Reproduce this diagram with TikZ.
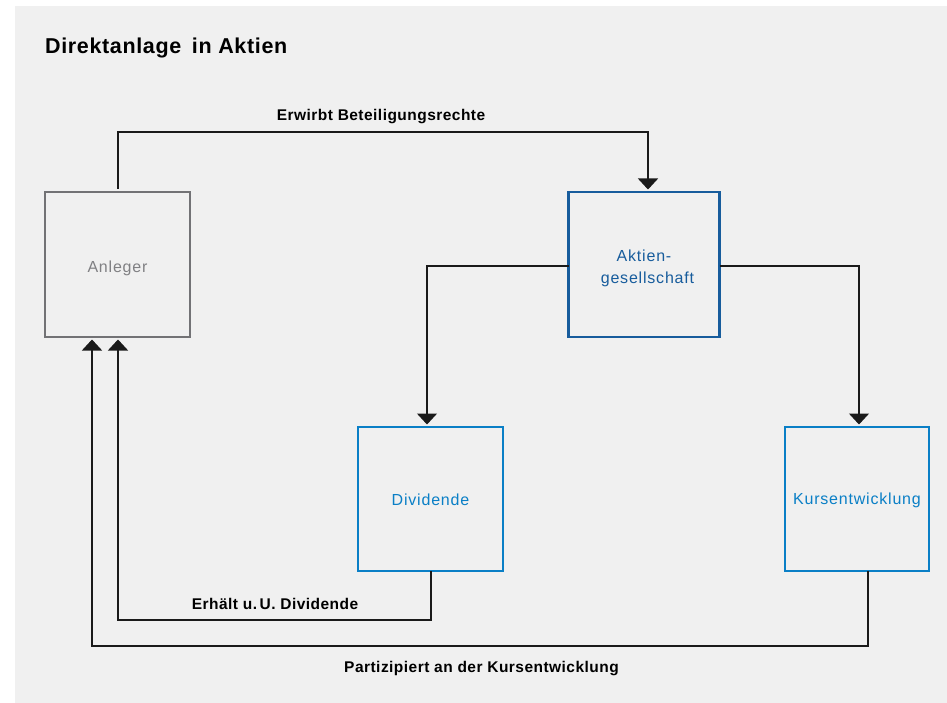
\documentclass[tikz,border=0pt]{standalone}
\usepackage{fontspec}
\setmainfont{Liberation Sans}
\newfontfamily\lblfont[LetterSpace=3]{Liberation Sans}
\newfontfamily\boxfont[LetterSpace=5]{Liberation Sans}
\usetikzlibrary{arrows.meta}
\definecolor{bggray}{HTML}{F0F0F0}
\definecolor{anlgray}{HTML}{727275}
\definecolor{darkblue}{HTML}{175C9C}
\definecolor{lightblue}{HTML}{0A7FC6}
\definecolor{linecol}{HTML}{1A1A1A}
\newcommand{\lowertext}[2]{\raisebox{-#1}[\height][\depth]{#2}}
\begin{document}
\begin{tikzpicture}[x=1pt,y=-1pt,
  boxnode/.style={draw, line width=2.8pt, inner sep=0pt, outer sep=0pt,
    font=\boxfont\fontsize{16}{21.7}\selectfont, align=center},
  conn/.style={draw=linecol, line width=1.4pt},
  arr/.style={conn, -{Triangle[width=20pt,length=11pt]}, shorten >=2.5pt},
  lbl/.style={anchor=base, inner sep=0pt, font=\lblfont\bfseries\fontsize{15.5}{18}\selectfont, text=black}
]
\useasboundingbox (0,0) rectangle (947,703);
\fill[white] (0,0) rectangle (947,703);
\fill[bggray] (15,6) rectangle (947,703);

\node[anchor=base west, inner sep=0pt, font=\lblfont\bfseries\fontsize{21.5}{24}\selectfont] (title) at (45,53.3) {Direktanlage\hspace{4pt} in Aktien};

\node[boxnode, draw=anlgray, text=anlgray!90, minimum width=145pt, minimum height=145pt] (anl) at (117.5,264.5) {\lowertext{4pt}{Anleger}};
\node[boxnode, draw=darkblue, text=darkblue, minimum width=151pt, minimum height=145pt] (ag) at (644,264.5) {\lowertext{4pt}{Aktien-}\\\hspace*{7pt}\lowertext{4pt}{gesellschaft}};
\node[boxnode, draw=lightblue, text=lightblue, minimum width=145pt, minimum height=144pt] (div) at (430.5,499) {\lowertext{1pt}{Dividende}};
\node[boxnode, draw=lightblue, text=lightblue, minimum width=144pt, minimum height=144pt] (kurs) at (857,499) {\lowertext{1pt}{Kursentwicklung}};

\coordinate (c1) at (118,132);
\coordinate (c2) at (431,620);
\coordinate (c3) at (868,646);

\draw[arr] ([xshift=0.5pt,yshift=3pt]anl.north) -- (c1) -| ([xshift=4pt]ag.north);
\draw[arr] ([yshift=-1.5pt]ag.west) -| ([xshift=-3.5pt]div.north);
\draw[arr] ([yshift=-1.5pt]ag.east) -| ([xshift=2pt]kurs.north);
\draw[arr] ([xshift=0.5pt]div.south) -- (c2) -| ([xshift=0.5pt]anl.south);
\draw[arr] ([xshift=11pt]kurs.south) -- (c3) -| ([xshift=-25.5pt]anl.south);

\node[lbl] (l1) at (381,121) {Erwirbt Beteiligungsrechte};
\node[lbl] (l2) at (275,609) {Erhält u.\,U. Dividende};
\node[lbl] (l3) at (481.5,672.5) {Partizipiert an der Kursentwicklung};
\end{tikzpicture}
\end{document}
